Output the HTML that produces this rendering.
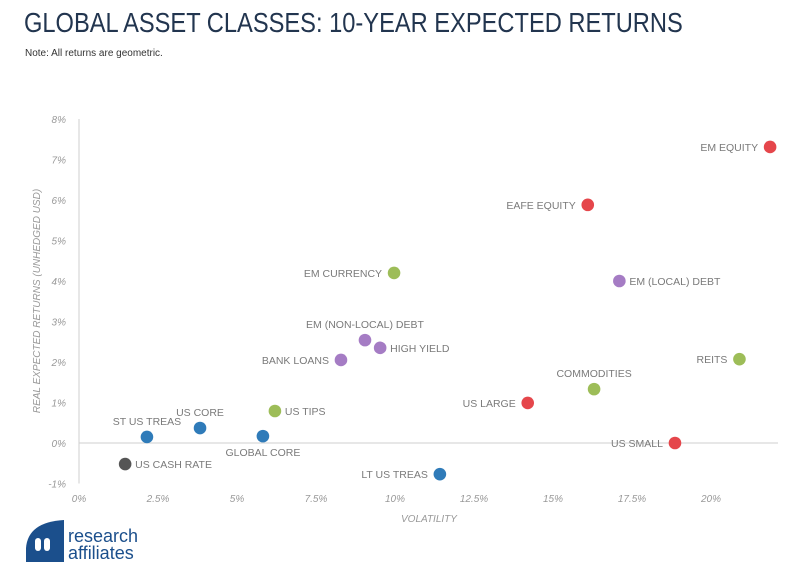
<!DOCTYPE html>
<html><head><meta charset="utf-8"><style>
body{margin:0;width:800px;height:566px;background:#fff;font-family:"Liberation Sans",sans-serif;overflow:hidden;position:relative}
#title{position:absolute;left:24px;top:7px;font-size:28px;color:#22354f;white-space:nowrap;transform:scaleX(0.845);transform-origin:0 0}
#note{position:absolute;left:25px;top:48px;font-size:10px;color:#333}
svg{position:absolute;left:0;top:0}
</style></head><body>
<div id="title">GLOBAL ASSET CLASSES: 10-YEAR EXPECTED RETURNS</div>
<div id="note">Note: All returns are geometric.</div>
<svg id="chart" width="800" height="566"></svg>
<script>
const names=["ST US TREAS","US CORE","GLOBAL CORE","US TIPS","US CASH RATE","LT US TREAS","BANK LOANS","EM (NON-LOCAL) DEBT","HIGH YIELD","EM CURRENCY","US LARGE","COMMODITIES","EAFE EQUITY","EM (LOCAL) DEBT","REITS","US SMALL","EM EQUITY"];
const volatility=[2.15,3.83,5.82,6.2,1.46,11.42,8.29,9.05,9.53,9.97,14.2,16.3,16.1,17.1,20.9,18.86,21.87];
const returns=[0.15,0.37,0.17,0.79,-0.52,-0.77,2.05,2.54,2.35,4.2,0.99,1.33,5.88,4.0,2.07,0,7.31];
const groups=["bond","bond","bond","real","cash","bond","credit","credit","credit","real","equity","real","equity","credit","real","equity","equity"];
const labelSide=["t","t","b","r","r","l","l","t","r","l","l","t","l","r","l","l","l"];
const xTicks=[0,2.5,5,7.5,10,12.5,15,17.5,20];
const xTickLabels=["0%","2.5%","5%","7.5%","10%","12.5%","15%","17.5%","20%"];
const yTicks=[-1,0,1,2,3,4,5,6,7,8];
const yTickLabels=["-1%","0%","1%","2%","3%","4%","5%","6%","7%","8%"];
const colors={bond:"#2f7bb9",real:"#9dbd58",cash:"#555555",credit:"#a57cc4",equity:"#e5464b"};
const X=v=>79+v*31.6, Y=v=>443-v*40.5;
const svg=document.getElementById('chart');const NS="http://www.w3.org/2000/svg";
function mk(t,a,txt){const e=document.createElementNS(NS,t);for(const k in a)e.setAttribute(k,a[k]);if(txt!==undefined)e.textContent=txt;svg.appendChild(e);return e;}
let e=mk('line',{x1:X(0),y1:Y(8),x2:X(0),y2:Y(-1),stroke:"#cfcfcf","stroke-width":1});


e=mk('line',{x1:X(0),y1:Y(0),x2:778,y2:Y(0),stroke:"#cfcfcf","stroke-width":1});


xTicks.forEach((t,i)=>{const l=mk('text',{x:X(t),y:502,"text-anchor":"middle","font-size":10,"font-style":"italic",fill:"#999"},xTickLabels[i]);

});
yTicks.forEach((t,i)=>{const l=mk('text',{x:66,y:Y(t)+4,"text-anchor":"end","font-size":10,"font-style":"italic",fill:"#999"},yTickLabels[i]);

});
e=mk('text',{x:429,y:522,"text-anchor":"middle","font-size":10,"font-style":"italic",fill:"#999"},"VOLATILITY");


e=mk('text',{x:0,y:0,"text-anchor":"middle","font-size":10,"font-style":"italic",fill:"#999",transform:"translate(40,301) rotate(-90)"},"REAL EXPECTED RETURNS (UNHEDGED USD)");


names.forEach((n,i)=>{const cx=X(volatility[i]),cy=Y(returns[i]);
const c=mk('circle',{cx:cx,cy:cy,r:6.3,fill:colors[groups[i]]});


const s=labelSide[i];let a={"font-size":10.5,fill:"#7a7a7a"};
if(s==='r'){a.x=cx+10;a.y=cy+4;a['text-anchor']='start';}
else if(s==='l'){a.x=cx-12;a.y=cy+4;a['text-anchor']='end';}
else if(s==='t'){a.x=cx;a.y=cy-12;a['text-anchor']='middle';}
else {a.x=cx;a.y=cy+20;a['text-anchor']='middle';}
const t=mk('text',a,n);

});
</script>
<svg width="160" height="50" style="left:24px;top:518px">
<path d="M2,44 L2,30 Q4,4 40,2 L40,44 Z" fill="#1b4f8c"/>
<rect x="11" y="20" width="6" height="13" rx="3" fill="#fff"/><rect x="20" y="20" width="6" height="13" rx="3" fill="#fff"/>
<text x="44" y="24" font-size="18" fill="#1b4f8c" font-family="Liberation Sans">research</text>
<text x="44" y="41" font-size="18" fill="#1b4f8c" font-family="Liberation Sans">affiliates</text>
</svg>
</body></html>
